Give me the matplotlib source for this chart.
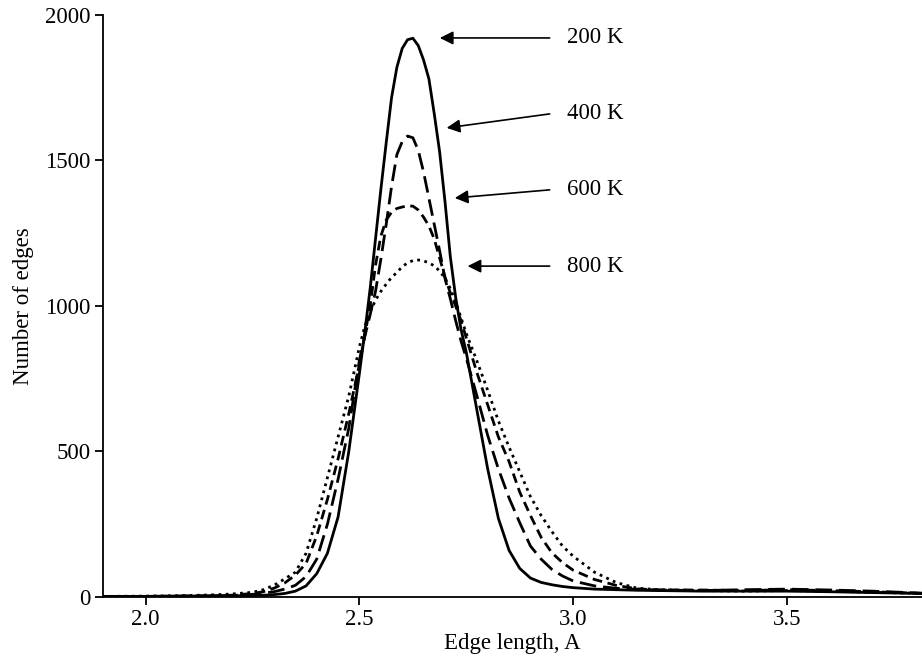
import matplotlib
matplotlib.use("Agg")
from matplotlib import pyplot as plt

plt.rcParams['font.family'] = ['Liberation Serif', 'DejaVu Serif']

# edge length grid (A)
edge_len = [1.9, 2.0, 2.1, 2.15, 2.2, 2.25, 2.275, 2.3, 2.325, 2.35,
            2.375, 2.4, 2.425, 2.45, 2.475, 2.5, 2.5125, 2.525, 2.5375, 2.55,
            2.5625, 2.575, 2.5875, 2.6, 2.6125, 2.625, 2.6375, 2.65, 2.6625, 2.675,
            2.6875, 2.7, 2.7125, 2.725, 2.7375, 2.75, 2.775, 2.8, 2.825, 2.85,
            2.875, 2.9, 2.925, 2.95, 2.975, 3.0, 3.05, 3.1, 3.15, 3.2,
            3.3, 3.4, 3.5, 3.6, 3.7, 3.82]

# number of edges at each temperature
n_200 = [2, 2, 3, 3, 4, 5, 6, 8, 12, 20,
         38, 80, 150, 275, 500, 770, 910, 1060, 1230, 1400,
         1560, 1715, 1820, 1885, 1915, 1920, 1895, 1845, 1780, 1660,
         1530, 1360, 1170, 1030, 920, 840, 640, 440, 270, 160,
         98, 65, 50, 42, 36, 32, 27, 25, 23, 22,
         20, 20, 20, 18, 15, 12]
n_400 = [2, 2, 3, 4, 5, 9, 13, 18, 27, 40,
         70, 130, 250, 405, 580, 815, 895, 970, 1050, 1160,
         1280, 1410, 1520, 1565, 1584, 1578, 1535, 1460, 1370, 1280,
         1190, 1095, 1025, 950, 880, 820, 690, 555, 440, 340,
         255, 175, 130, 95, 72, 55, 38, 30, 26, 24,
         22, 25, 27, 24, 20, 13]
n_600 = [2, 2, 3, 4, 6, 12, 18, 30, 48, 75,
         115, 210, 335, 475, 630, 800, 900, 1000, 1140, 1240,
         1295, 1322, 1335, 1340, 1344, 1343, 1330, 1305, 1275, 1230,
         1165, 1100, 1045, 1000, 950, 890, 770, 660, 550, 465,
         360, 280, 205, 152, 118, 92, 60, 40, 28, 24,
         24, 22, 25, 22, 18, 12]
n_800 = [2, 3, 5, 7, 10, 16, 25, 40, 62, 85,
         150, 270, 410, 550, 690, 860, 930, 980, 1020, 1050,
         1075, 1098, 1115, 1135, 1148, 1156, 1158, 1155, 1148, 1138,
         1120, 1095, 1060, 1015, 960, 905, 810, 710, 605, 515,
         430, 345, 280, 225, 175, 140, 85, 50, 30, 25,
         22, 20, 22, 20, 16, 12]

temps = ['200 K', '400 K', '600 K', '800 K']
# (text y, arrow head x, arrow head y)
text_y = [1921, 1660, 1399, 1137]
head_x = [2.688, 2.704, 2.723, 2.753]
head_y = [1921, 1612, 1371, 1137]

fig = plt.figure(figsize=(9.22, 6.65), dpi=100)
ax = fig.add_axes([0.1117, 0.1023, 0.8883, 0.8752])

ax.plot(edge_len, n_200, color='black', lw=2.0, linestyle='-')
ax.plot(edge_len, n_400, color='black', lw=2.0, linestyle=(0, (6, 2.5)))
ax.plot(edge_len, n_600, color='black', lw=2.0, linestyle=(0, (3.5, 2)))
ax.plot(edge_len, n_800, color='black', lw=2.0, linestyle=(0, (1, 1.6)))

for t, ty, hx, hy in zip(temps, text_y, head_x, head_y):
    ax.annotate('', xy=(hx, hy), xytext=(2.945, ty),
                arrowprops=dict(arrowstyle='-|>', color='black', lw=1.2,
                                mutation_scale=20, shrinkA=0, shrinkB=0))
    ax.text(2.986, ty, t, fontsize=16.5, va='center', ha='left')

ax.set_xlim(1.9, 3.816)
ax.set_ylim(0, 2000)
ax.set_xticks([2.0, 2.5, 3.0, 3.5])
ax.set_xticklabels(['2.0', '2.5', '3.0', '3.5'])
ax.set_yticks([0, 500, 1000, 1500, 2000])

for s in ['top', 'right']:
    ax.spines[s].set_visible(False)
for s in ['left', 'bottom']:
    ax.spines[s].set_linewidth(1.3)
ax.tick_params(direction='out', length=6, width=1.3, labelsize=16.5, pad=3)

ax.set_xlabel('Edge length, A', fontsize=16.5, labelpad=2)
ax.set_ylabel('Number of edges', fontsize=16.5, labelpad=8)

fig.savefig('out.png', dpi=100)
